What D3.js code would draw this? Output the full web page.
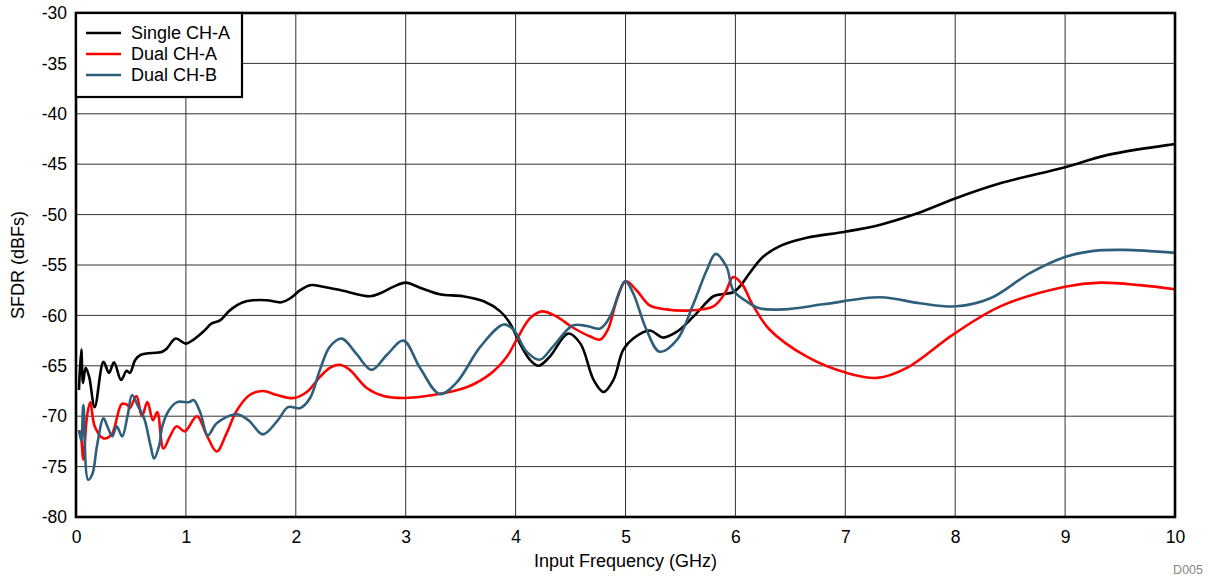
<!DOCTYPE html>
<html>
<head>
<meta charset="utf-8">
<script src="https://cdn.jsdelivr.net/npm/d3@7"></script>
<style>
  html, body { margin: 0; padding: 0; background: #fff; }
  svg { display: block; font-family: "Liberation Sans", Arial, sans-serif; }
</style>
</head>
<body>
<svg id="chart" width="1209" height="577"></svg>
<script>
// ---- data ----
const xTicks = [0, 1, 2, 3, 4, 5, 6, 7, 8, 9, 10];
const yTicks = [-30, -35, -40, -45, -50, -55, -60, -65, -70, -75, -80];
const seriesNames = ["Single CH-A", "Dual CH-A", "Dual CH-B"];
const seriesColors = ["#000000", "#ff0000", "#2e5f7a"];

const singleCHA = [[0.027,-67.4],[0.048,-63.4],[0.064,-66.7],[0.088,-65.2],[0.12,-66.1],[0.17,-69.1],[0.25,-64.6],[0.30,-65.7],[0.346,-64.65],[0.41,-66.4],[0.46,-65.5],[0.49,-65.7],[0.54,-64.4],[0.59,-63.9],[0.785,-63.6],[0.825,-63.3],[0.907,-62.3],[0.998,-62.8],[1.07,-62.4],[1.16,-61.6],[1.235,-60.8],[1.31,-60.5],[1.40,-59.5],[1.52,-58.7],[1.61,-58.5],[1.735,-58.5],[1.87,-58.7],[1.95,-58.3],[2.04,-57.5],[2.13,-57.0],[2.25,-57.15],[2.43,-57.55],[2.675,-58.1],[2.77,-57.8],[2.89,-57.15],[3.0,-56.75],[3.13,-57.25],[3.31,-57.9],[3.52,-58.1],[3.71,-58.6],[3.86,-59.6],[3.95,-60.8],[4.04,-62.8],[4.13,-64.4],[4.21,-65.0],[4.31,-64.1],[4.48,-61.8],[4.59,-62.8],[4.71,-66.4],[4.80,-67.6],[4.89,-66.4],[4.98,-63.4],[5.07,-62.3],[5.22,-61.5],[5.34,-62.2],[5.47,-61.6],[5.62,-60.1],[5.80,-58.1],[5.875,-57.9],[5.98,-57.7],[6.05,-57.0],[6.13,-55.8],[6.25,-54.2],[6.41,-53.1],[6.65,-52.3],[7.0,-51.7],[7.32,-51.0],[7.65,-49.9],[8.0,-48.4],[8.41,-46.9],[9.0,-45.3],[9.38,-44.1],[10,-43.0]];

const dualCHA = [[0.027,-71.4],[0.045,-72.0],[0.067,-74.3],[0.10,-70.0],[0.13,-68.6],[0.17,-71.0],[0.25,-72.2],[0.325,-71.8],[0.416,-68.8],[0.47,-68.9],[0.49,-69.2],[0.55,-68.0],[0.60,-70.0],[0.65,-68.6],[0.70,-70.4],[0.74,-69.6],[0.795,-73.2],[0.855,-72.0],[0.916,-71.0],[0.99,-71.5],[1.10,-70.0],[1.19,-71.9],[1.28,-73.5],[1.37,-71.7],[1.46,-69.5],[1.58,-67.9],[1.70,-67.5],[1.83,-67.9],[1.98,-68.2],[2.10,-67.6],[2.22,-66.1],[2.31,-65.2],[2.40,-64.9],[2.49,-65.4],[2.645,-67.2],[2.80,-68.0],[2.98,-68.2],[3.25,-67.9],[3.56,-67.1],[3.77,-65.8],[3.92,-64.1],[4.01,-62.4],[4.13,-60.3],[4.24,-59.6],[4.37,-60.1],[4.52,-61.2],[4.68,-62.1],[4.77,-62.4],[4.84,-61.4],[4.92,-58.5],[5.00,-56.6],[5.10,-57.5],[5.22,-59.0],[5.37,-59.4],[5.59,-59.5],[5.80,-59.1],[5.905,-57.8],[5.98,-56.2],[6.06,-56.9],[6.16,-59.0],[6.31,-61.4],[6.65,-64.1],[7.01,-65.7],[7.29,-66.2],[7.56,-65.2],[7.98,-61.9],[8.41,-59.1],[9.0,-57.15],[9.32,-56.75],[9.68,-57.0],[10,-57.4]];

const dualCHB = [[0.027,-71.4],[0.048,-72.4],[0.067,-68.9],[0.11,-76.3],[0.15,-75.7],[0.19,-73.0],[0.25,-70.2],[0.285,-71.0],[0.33,-72.0],[0.37,-71.0],[0.42,-72.0],[0.47,-69.9],[0.51,-67.9],[0.56,-68.9],[0.62,-70.2],[0.68,-73.0],[0.71,-74.2],[0.755,-73.0],[0.785,-71.0],[0.846,-69.4],[0.92,-68.6],[1.03,-68.6],[1.07,-68.4],[1.13,-69.6],[1.20,-71.9],[1.28,-70.7],[1.46,-69.8],[1.57,-70.4],[1.70,-71.8],[1.83,-70.5],[1.93,-69.1],[2.04,-69.2],[2.13,-68.2],[2.22,-65.4],[2.31,-63.1],[2.42,-62.3],[2.55,-63.8],[2.69,-65.4],[2.83,-63.9],[2.98,-62.5],[3.13,-65.2],[3.31,-67.8],[3.46,-66.7],[3.68,-63.1],[3.89,-60.9],[3.98,-61.4],[4.10,-63.6],[4.22,-64.4],[4.34,-63.1],[4.52,-61.0],[4.65,-61.05],[4.77,-61.3],[4.86,-60.1],[4.95,-57.5],[5.00,-56.6],[5.07,-57.8],[5.19,-61.4],[5.31,-63.6],[5.47,-62.4],[5.62,-58.8],[5.74,-55.5],[5.82,-53.9],[5.92,-55.2],[5.98,-57.5],[6.10,-58.6],[6.22,-59.3],[6.44,-59.4],[6.80,-58.9],[7.32,-58.2],[7.68,-58.8],[8.01,-59.1],[8.32,-58.3],[8.68,-55.8],[9.0,-54.2],[9.26,-53.6],[9.53,-53.5],[10,-53.8]];

const seriesData = [singleCHA, dualCHA, dualCHB];

// ---- layout ----
const svg = d3.select("#chart");
const pL = 76, pR = 1175, pT = 13, pB = 517;
const x = d3.scaleLinear().domain([0, 10]).range([pL, pR]);
const y = d3.scaleLinear().domain([-80, -30]).range([pB, pT]);
const FONT = 17.5;

// grid
const grid = svg.append("g");
grid.selectAll("line.v").data(xTicks.slice(1, -1)).join("line")
  .attr("class", "v")
  .attr("x1", d => x(d)).attr("x2", d => x(d))
  .attr("y1", pT).attr("y2", pB)
  .attr("stroke", "#333").attr("stroke-width", 1);
grid.selectAll("line.h").data(yTicks.slice(1, -1)).join("line")
  .attr("class", "h")
  .attr("x1", pL).attr("x2", pR)
  .attr("y1", d => y(d)).attr("y2", d => y(d))
  .attr("stroke", "#333").attr("stroke-width", 1);

// clip
svg.append("clipPath").attr("id", "clip").append("rect")
  .attr("x", pL).attr("y", pT).attr("width", pR - pL).attr("height", pB - pT);

const line = d3.line()
  .x(d => x(d[0])).y(d => y(d[1]))
  .curve(d3.curveCatmullRom.alpha(0.5));

svg.append("g").attr("clip-path", "url(#clip)")
  .selectAll("path").data(seriesData).join("path")
  .attr("d", d => line(d))
  .attr("fill", "none")
  .attr("stroke", (d, i) => seriesColors[i])
  .attr("stroke-width", 2.6)
  .attr("stroke-linejoin", "round");

// frame
svg.append("rect")
  .attr("x", pL).attr("y", pT).attr("width", pR - pL).attr("height", pB - pT)
  .attr("fill", "none").attr("stroke", "#000").attr("stroke-width", 2.6);

// axes (labels only, via d3 axes)
const xAxis = svg.append("g").attr("transform", `translate(0,${pB})`)
  .call(d3.axisBottom(x).tickValues(xTicks).tickSize(0).tickPadding(14).tickFormat(d3.format("d")));
const yAxis = svg.append("g").attr("transform", `translate(${pL},0)`)
  .call(d3.axisLeft(y).tickValues(yTicks).tickSize(0).tickPadding(9).tickFormat(d => String(d)));
[xAxis, yAxis].forEach(a => {
  a.select(".domain").remove();
  a.selectAll("text").attr("font-size", FONT).attr("fill", "#000")
    .attr("font-family", '"Liberation Sans", Arial, sans-serif');
});

// axis titles
svg.append("text").attr("x", (pL + pR) / 2).attr("y", 567)
  .attr("text-anchor", "middle").attr("font-size", 18).text("Input Frequency (GHz)");
svg.append("text").attr("transform", `translate(24,${(pT + pB) / 2}) rotate(-90)`)
  .attr("text-anchor", "middle").attr("font-size", 18).text("SFDR (dBFs)");
svg.append("text").attr("x", 1203).attr("y", 574)
  .attr("text-anchor", "end").attr("font-size", 12.5).attr("fill", "#888").text("D005");

// legend
const lg = svg.append("g");
lg.append("rect").attr("x", pL).attr("y", pT).attr("width", 166).attr("height", 84)
  .attr("fill", "#fff").attr("stroke", "#000").attr("stroke-width", 2.2);
const rows = lg.selectAll("g.row").data(seriesNames).join("g")
  .attr("class", "row")
  .attr("transform", (d, i) => `translate(0,${33 + i * 21})`);
rows.append("line").attr("x1", 86).attr("x2", 121).attr("y1", 0).attr("y2", 0)
  .attr("stroke", (d, i) => seriesColors[i]).attr("stroke-width", 2.6);
rows.append("text").attr("x", 131).attr("y", 6.3).attr("font-size", 18).text(d => d);
</script>
</body>
</html>
